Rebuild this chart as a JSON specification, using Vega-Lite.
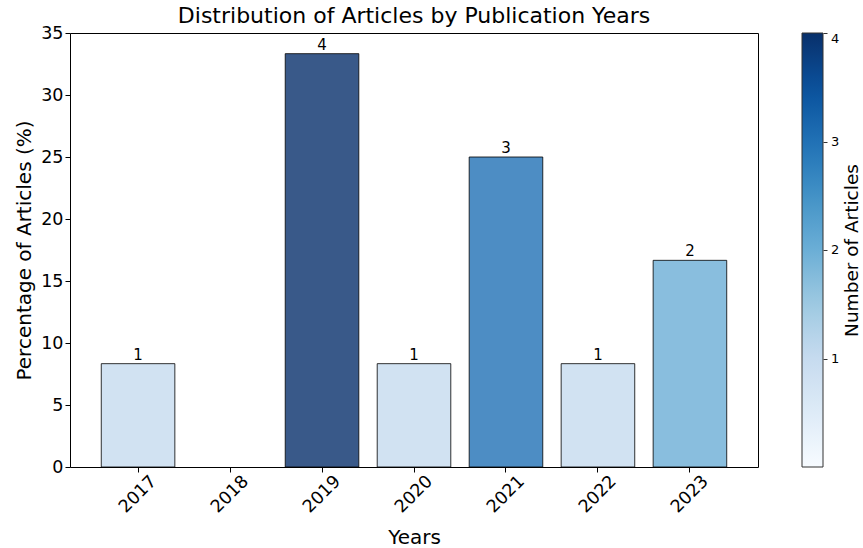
{
  "$schema": "https://vega.github.io/schema/vega-lite/v6.json",
  "autosize": "none",
  "width": 688,
  "height": 434,
  "padding": {"left": 70, "top": 33, "right": 105, "bottom": 81},
  "background": "white",
  "config": {
    "font": "DejaVu Sans",
    "view": {"stroke": "black", "strokeWidth": 1},
    "axis": {"grid": false, "domain": false, "tickColor": "black", "tickSize": 5, "labelColor": "black", "titleColor": "black", "labelFont": "DejaVu Sans", "titleFont": "DejaVu Sans", "titleFontWeight": "normal"}
  },
  "title": {"text": "Distribution of Articles by Publication Years", "fontSize": 22, "fontWeight": "normal", "font": "DejaVu Sans", "color": "black", "offset": -4},
  "data": {
    "values": [
      {"year": "2017", "percent": 8.333, "count": 1},
      {"year": "2018", "percent": 0, "count": 0},
      {"year": "2019", "percent": 33.333, "count": 4},
      {"year": "2020", "percent": 8.333, "count": 1},
      {"year": "2021", "percent": 25.0, "count": 3},
      {"year": "2022", "percent": 8.333, "count": 1},
      {"year": "2023", "percent": 16.667, "count": 2}
    ]
  },
  "encoding": {
    "x": {"field": "year", "type": "nominal", "sort": null,
      "scale": {"domain": ["2017", "2018", "2019", "2020", "2021", "2022", "2023"], "paddingInner": 0.2, "paddingOuter": 0.34},
      "axis": {"title": "Years", "labelAngle": -45, "labelFontSize": 17.5, "titleFontSize": 20, "labelAlign": "center", "labelBaseline": "middle", "labelPadding": 22, "titlePadding": 12}}
  },
  "layer": [
    {
      "transform": [{"filter": "datum.percent > 0"}],
      "mark": {"type": "bar", "stroke": "black", "strokeWidth": 1, "fillOpacity": 0.8, "strokeOpacity": 0.8},
      "encoding": {
        "y": {"field": "percent", "type": "quantitative",
          "scale": {"domain": [0, 35], "nice": false},
          "axis": {"orient": "left", "title": "Percentage of Articles (%)", "values": [0, 5, 10, 15, 20, 25, 30, 35], "labelFontSize": 17.5, "titleFontSize": 20, "titlePadding": 6}},
        "color": {"field": "count", "type": "quantitative",
          "scale": {"domain": [0, 0.5, 1, 1.5, 2, 2.5, 3, 3.5, 4], "range": ["#f7fbff", "#deebf7", "#c6dbef", "#9ecae1", "#6baed6", "#4292c6", "#2171b5", "#08519c", "#08306b"]},
          "legend": {"orient": "none", "legendX": 732, "legendY": 0, "direction": "vertical", "gradientLength": 434, "gradientThickness": 21, "gradientStrokeColor": "#333", "gradientStrokeWidth": 1, "values": [1, 2, 3, 4], "format": "d", "labelFontSize": 13, "labelColor": "black", "labelOffset": 8, "title": null}}
      }
    },
    {
      "transform": [{"filter": "datum.count > 0"}],
      "mark": {"type": "text", "baseline": "bottom", "dy": -1, "fontSize": 15, "color": "black"},
      "encoding": {
        "y": {"field": "percent", "type": "quantitative",
          "scale": {"domain": [0, 35], "nice": false},
          "axis": {"orient": "right", "title": "Number of Articles", "labels": false, "ticks": false, "domain": false, "offset": 84, "titlePadding": 0, "titleAngle": 270, "titleBaseline": "top", "titleFontSize": 18.5}},
        "text": {"field": "count", "type": "quantitative"}
      }
    },
    {
      "mark": {"type": "point", "opacity": 0},
      "encoding": {
        "y": {"field": "count", "type": "quantitative",
          "scale": {"domain": [0, 4], "nice": false},
          "axis": {"orient": "right", "title": null, "labels": false, "domain": false, "ticks": true, "tickSize": 4, "tickColor": "#333", "values": [1, 2, 3, 4], "offset": 65}}
      }
    }
  ],
  "resolve": {"scale": {"y": "independent"}, "axis": {"y": "independent"}}
}
